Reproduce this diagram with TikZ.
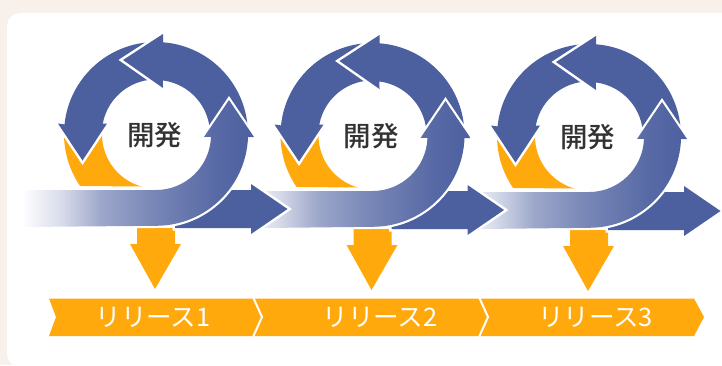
\documentclass[tikz,border=0pt]{standalone}
\usepackage{fontspec}
\newfontfamily\cjk[BoldFont={Noto Sans CJK JP Medium}]{Noto Sans CJK JP}
\definecolor{pagebg}{HTML}{F7F0EB}
\definecolor{rblue}{HTML}{4C5F9F}
\definecolor{rorange}{HTML}{FFA90D}
\definecolor{rtext}{HTML}{333333}
\pgfdeclarehorizontalshading{jgrad}{100bp}{color(0bp)=(white); color(25bp)=(white); color(33.5bp)=(white!78!rblue); color(42bp)=(white!45!rblue); color(53bp)=(white!25!rblue); color(66.5bp)=(white!7!rblue); color(75bp)=(rblue); color(100bp)=(rblue)}
\tikzset{
  bluearrow/.style={fill=rblue,preaction={draw=white,line width=5pt,line join=miter,miter limit=10}},
  orangeshape/.style={fill=rorange,draw=none},
  chevron/.style={draw=white,line width=2pt,line join=miter},
  devlabel/.style={font=\cjk\bfseries\fontsize{27.5}{27.5}\selectfont,text=rtext,inner sep=0pt},
  rellabel/.style={font=\cjk\fontsize{25.5}{25.5}\selectfont,text=white,inner sep=0pt}
}
\begin{document}
\begin{tikzpicture}[x=1pt,y=1pt,yscale=-1]
\useasboundingbox (0,0) rectangle (722,365);
\fill[pagebg] (0,0) rectangle (722,365);
\fill[white,rounded corners=13pt] (7,13) rectangle (770,367);
\clip (0,0) rectangle (722,365);
% three cycles, last first, so each arrow lies over the next J
\foreach \o/\d/\n in {433/2/c,216.5/1/b,0/0/a}{
\begin{scope}[shift={(\o,\d)}]
  % orange drop
  \path (156,134)+(186:92) coordinate (s);
  \fill[orangeshape] (s) arc[start angle=186,end angle=145.6,radius=92pt]
     -- (141.5,186.5) arc[start angle=105.6,end angle=186,radius=54pt] -- cycle;
  % release arrow
  \fill[orangeshape] (137,228) -- (175,228) -- (175,244) -- (181,244) -- (155,289) -- (130,244) -- (137,244) -- cycle;
  % left arrow
  \path (156,134)+(275:92) coordinate (l1);
  \draw[bluearrow,draw=none] (l1) arc[start angle=275,end angle=186,radius=92pt]
     -- (58,123.5) -- (82.5,160.5) -- (107,123.5) -- (102.8,123.5)
     arc[start angle=190.6,end angle=275,radius=54pt] -- cycle;
  % top arrow
  \path[bluearrow] (123,60) -- (163,34) -- (163,42.3)
     arc[start angle=-85.6,end angle=0,radius=92pt]
     -- (210,134) arc[start angle=0,end angle=-82.6,radius=54pt]
     -- (163,88) -- cycle;
  % outgoing arrow
  \path[bluearrow] (175,190) -- (251,190) -- (251,184) -- (287.5,209) -- (251,234) -- (251,228) -- (175,228) -- cycle;
  % J arrow
  \ifnum\d=0 \def\js{22}\else \def\js{48}\fi
  \def\jpath{(\js,190) -- (156,190) arc[start angle=90,end angle=2,radius=55pt]
     -- (204,137) -- (229,100) -- (254,137) -- (248,137)
     arc[start angle=2,end angle=90,radius=92pt] -- (\js,227) -- cycle}
  \draw[white,line width=4.4pt,line join=miter,miter limit=10] \jpath;
  \begin{scope}
    \clip \jpath;
    \shade[shading=jgrad] (22,90) rectangle (254,235);
  \end{scope}
  \node[devlabel] (dev\n) at (154.5,135) {開発};
\end{scope}
}
% release ribbon
\fill[orangeshape] (49,298.5) -- (694,298.5) -- (704,317) -- (694,336) -- (49,336) -- (56,317) -- cycle;
\draw[chevron] (253,297) -- (262,317) -- (253,337);
\draw[chevron] (479,297) -- (488,317) -- (479,337);
\node[rellabel] (rel1) at (153,317) {リリース1};
\node[rellabel] (rel2) at (380,317) {リリース2};
\node[rellabel] (rel3) at (595.5,317) {リリース3};
\end{tikzpicture}
\end{document}
